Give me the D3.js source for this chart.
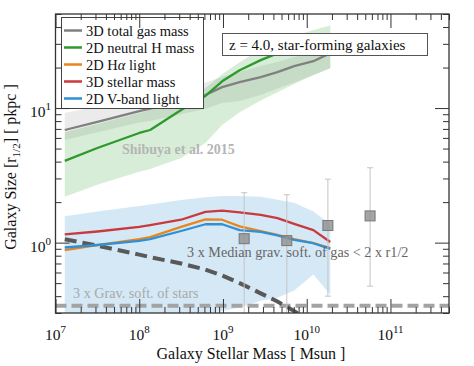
<!DOCTYPE html>
<html><head><meta charset="utf-8">
<script src="https://cdn.jsdelivr.net/npm/d3@7"></script>
<style>
body{margin:0;background:#fff}
svg{display:block}
text{font-family:"Liberation Serif","Times New Roman",serif}
</style>
</head><body><svg id="c" width="474" height="366"></svg>
<script>
// ---- data ----
const mass     = [1.29e7, 3.16e7, 1.0e8, 1.35e8, 3.16e8, 6.17e8, 9.77e8, 1.58e9, 2.82e9, 4.47e9, 7.08e9, 1.20e10, 1.91e10];
const gasMed   = [6.87, 7.9, 9.5, 9.9, 11.3, 12.5, 14.3, 15.6, 17.0, 18.5, 20.5, 22.3, 25.6];
const gasLo    = [5.8, 6.6, 7.8, 8.0, 9.0, 9.9, 10.9, 11.3, 12.5, 14.0, 15.5, 17.5, 19.8];
const gasHi    = [9.2, 10.3, 11.9, 12.3, 14.0, 15.5, 17.0, 18.6, 20.5, 22.0, 24.0, 26.0, 28.0];
const hiMed    = [4.05, 5.05, 6.53, 6.87, 9.67, 12.3, 15.8, 19.1, 22.7, 25.5, 28.4, 31.4, 34.7];
const hiLo     = [2.19, 2.69, 3.36, 3.53, 4.26, 5.5, 7.5, 9.3, 11.4, 13.1, 15.1, 17.6, 19.8];
const hiHi     = [6.6, 7.6, 9.2, 9.7, 11.4, 14.1, 17.8, 21.9, 27.3, 30.3, 34.2, 38.0, 41.0];
const halpha   = [0.88, 0.96, 1.06, 1.10, 1.31, 1.49, 1.48, 1.32, 1.22, 1.14, 1.06, 0.99, 0.91];
const stellar  = [1.15, 1.21, 1.31, 1.35, 1.48, 1.69, 1.73, 1.68, 1.61, 1.52, 1.38, 1.24, 1.01];
const vband    = [0.92, 0.96, 1.03, 1.06, 1.22, 1.37, 1.37, 1.24, 1.20, 1.13, 1.05, 0.99, 0.90];
const vLo      = [0.25, 0.25, 0.25, 0.25, 0.27, 0.30, 0.31, 0.33, 0.37, 0.39, 0.44, 0.58, 0.41];
const vHi      = [1.57, 1.70, 1.87, 1.92, 2.07, 2.17, 2.22, 2.22, 2.19, 2.08, 1.98, 1.70, 1.38];
const softGas  = [1.06, 0.95, 0.815, 0.78, 0.70, 0.63, 0.57, 0.50, 0.42, 0.365, 0.31, 0.25, 0.21];
const softStar = 0.34;
const shibMass = [1.79e9, 5.78e9, 1.79e10, 5.71e10];
const shibSize = [1.07, 1.035, 1.34, 1.58];
const shibLo   = [0.29, 0.29, 0.40, 0.475];
const shibHi   = [2.35, 2.27, 2.96, 3.6];
const xMajor = [1e7, 1e8, 1e9, 1e10, 1e11];
const xMajorLabels = ["7", "8", "9", "10", "11"];
const yMajor = [1, 10];
const yMajorLabels = ["0", "1"];
const legendNames = ["3D total gas mass", "2D neutral H mass", "2D H\u03b1 light", "3D stellar mass", "2D V-band light"];
const legendColors = ["#808080", "#2e9a2e", "#e8861e", "#c83a3e", "#2f90d6"];

// ---- setup ----
const L = 55.5, R = 449, T = 14, B = 313;
const svg = d3.select("#c");
const x = d3.scaleLog().domain([1e7, 5e11]).range([L, R]);
const y = d3.scaleLog().domain([0.3, 50]).range([B, T]);

svg.append("clipPath").attr("id", "clip").append("rect")
  .attr("x", L).attr("y", T).attr("width", R - L).attr("height", B - T);
const g = svg.append("g").attr("clip-path", "url(#clip)");

const rows = mass.map((m, i) => ({m, i}));
const area = (lo, hi) => d3.area().x(d => x(d.m)).y0(d => y(lo[d.i])).y1(d => y(hi[d.i]));
const line = (v) => d3.line().x(d => x(d.m)).y(d => y(v[d.i]));

// bands
g.append("path").datum(rows).attr("d", area(gasLo, gasHi)).attr("fill", "#999").attr("fill-opacity", 0.2);
g.append("path").datum(rows).attr("d", area(hiLo, hiHi)).attr("fill", "#2ca02c").attr("fill-opacity", 0.19);
g.append("path").datum(rows).attr("d", area(vLo, vHi)).attr("fill", "#3a94d4").attr("fill-opacity", 0.21);

// soft lines
g.append("line").attr("x1", L).attr("x2", R).attr("y1", y(softStar)).attr("y2", y(softStar))
  .attr("stroke", "#a3a3a3").attr("stroke-width", 4).attr("stroke-dasharray", "11,5");
g.append("path").datum(rows).attr("d", line(softGas)).attr("fill", "none")
  .attr("stroke", "#595959").attr("stroke-width", 4).attr("stroke-dasharray", "12,6");

// median lines
const series = [[gasMed, legendColors[0]], [hiMed, legendColors[1]], [halpha, legendColors[2]], [stellar, legendColors[3]], [vband, legendColors[4]]];
series.forEach(([v, c]) => {
  g.append("path").datum(rows).attr("d", line(v)).attr("fill", "none")
    .attr("stroke", c).attr("stroke-width", 2.3).attr("stroke-linejoin", "round");
});

// Shibuya points
const sh = shibMass.map((m, i) => ({m, s: shibSize[i], lo: shibLo[i], hi: shibHi[i]}));
const eb = g.append("g").attr("stroke", "#c4c4c4").attr("stroke-width", 1);
sh.forEach(d => {
  const cx = x(d.m);
  eb.append("line").attr("x1", cx).attr("x2", cx).attr("y1", y(d.lo)).attr("y2", y(d.hi));
  eb.append("line").attr("x1", cx - 3).attr("x2", cx + 3).attr("y1", y(d.lo)).attr("y2", y(d.lo));
  eb.append("line").attr("x1", cx - 3).attr("x2", cx + 3).attr("y1", y(d.hi)).attr("y2", y(d.hi));
});
g.selectAll("rect.sq").data(sh).enter().append("rect").attr("class", "sq")
  .attr("x", d => x(d.m) - 5).attr("y", d => y(d.s) - 5).attr("width", 10).attr("height", 10)
  .attr("fill", "#8f8f8f").attr("fill-opacity", 0.8).attr("stroke", "#777").attr("stroke-width", 1);

// annotations
svg.append("text").attr("x", 122).attr("y", 154).attr("font-size", 14).attr("font-weight", "bold")
  .attr("fill", "#b5b5b5").text("Shibuya et al. 2015");
svg.append("text").attr("x", 187).attr("y", 257).attr("font-size", 14.2).attr("fill", "#666")
  .text("3 x Median grav. soft. of gas < 2 x r1/2");
svg.append("text").attr("x", 73).attr("y", 298).attr("font-size", 14.2).attr("fill", "#a8a8a8")
  .text("3 x Grav. soft. of stars");

// z box
svg.append("rect").attr("x", 222.5).attr("y", 33.5).attr("width", 205).attr("height", 22)
  .attr("fill", "#fff").attr("stroke", "#555").attr("stroke-width", 1);
svg.append("text").attr("x", 229).attr("y", 50).attr("font-size", 15).attr("fill", "#111")
  .text("z = 4.0, star-forming galaxies");

// legend
svg.append("rect").attr("x", 61.5).attr("y", 17.5).attr("width", 142).attr("height", 91)
  .attr("fill", "#fff").attr("stroke", "#444").attr("stroke-width", 1);
legendNames.forEach((n, i) => {
  const yy = 30.5 + i * 17;
  svg.append("line").attr("x1", 64).attr("x2", 82).attr("y1", yy).attr("y2", yy)
    .attr("stroke", legendColors[i]).attr("stroke-width", 2.5);
  const t = svg.append("text").attr("x", 86).attr("y", yy + 5).attr("font-size", 14.5).attr("fill", "#111");
  if (i === 2) {
    t.append("tspan").text("2D H");
    t.append("tspan").attr("font-style", "italic").text("\u03b1");
    t.append("tspan").text(" light");
  } else t.text(n);
});

// axes (ticks inside)
const minorVals = (lo, hi) => { const out = []; for (let e = Math.floor(Math.log10(lo)); e <= Math.ceil(Math.log10(hi)); e++) for (let k = 2; k <= 9; k++) { const v = k * Math.pow(10, e); if (v >= lo && v <= hi) out.push(v); } return out; };
const xMinor = minorVals(1e7, 5e11), yMinor = minorVals(0.3, 50);
const axG = svg.append("g").attr("color", "#333");
function addAxis(axis, tx, ty) {
  const a = axG.append("g").attr("transform", `translate(${tx},${ty})`).call(axis);
  a.select(".domain").remove();
  a.selectAll("line").attr("stroke", "#333").attr("stroke-width", 1);
}
addAxis(d3.axisBottom(x).tickValues(xMajor).tickSize(-14).tickFormat(""), 0, B);
addAxis(d3.axisBottom(x).tickValues(xMinor).tickSize(-6).tickFormat(""), 0, B);
addAxis(d3.axisTop(x).tickValues(xMajor).tickSize(-14).tickFormat(""), 0, T);
addAxis(d3.axisTop(x).tickValues(xMinor).tickSize(-6).tickFormat(""), 0, T);
addAxis(d3.axisLeft(y).tickValues(yMajor).tickSize(-14).tickFormat(""), L, 0);
addAxis(d3.axisLeft(y).tickValues(yMinor).tickSize(-6).tickFormat(""), L, 0);
addAxis(d3.axisRight(y).tickValues(yMajor).tickSize(-14).tickFormat(""), R, 0);
addAxis(d3.axisRight(y).tickValues(yMinor).tickSize(-6).tickFormat(""), R, 0);
svg.append("rect").attr("x", L).attr("y", T).attr("width", R - L).attr("height", B - T)
  .attr("fill", "none").attr("stroke", "#333").attr("stroke-width", 1.3);

// tick labels
xMajor.forEach((v, i) => {
  const t = svg.append("text").attr("x", x(v)).attr("y", 340).attr("font-size", 15.5)
    .attr("text-anchor", "middle").attr("fill", "#111");
  t.append("tspan").text("10");
  t.append("tspan").attr("dy", -7).attr("font-size", 11).text(xMajorLabels[i]);
});
yMajor.forEach((v, i) => {
  const t = svg.append("text").attr("x", 51).attr("y", y(v) + 9).attr("font-size", 15.5)
    .attr("text-anchor", "end").attr("fill", "#111");
  t.append("tspan").text("10");
  t.append("tspan").attr("dy", -7).attr("font-size", 11).text(yMajorLabels[i]);
});

// axis titles
svg.append("text").attr("x", 251).attr("y", 359).attr("font-size", 16).attr("text-anchor", "middle")
  .attr("fill", "#111").text("Galaxy Stellar Mass [ Msun ]");
const yl = svg.append("text").attr("transform", "translate(16,167) rotate(-90)").attr("font-size", 16)
  .attr("text-anchor", "middle").attr("fill", "#111");
yl.append("tspan").text("Galaxy Size [r");
yl.append("tspan").attr("dy", 4).attr("font-size", 11).text("1/2");
yl.append("tspan").attr("dy", -4).text("] [ pkpc ]");
</script></body></html>
